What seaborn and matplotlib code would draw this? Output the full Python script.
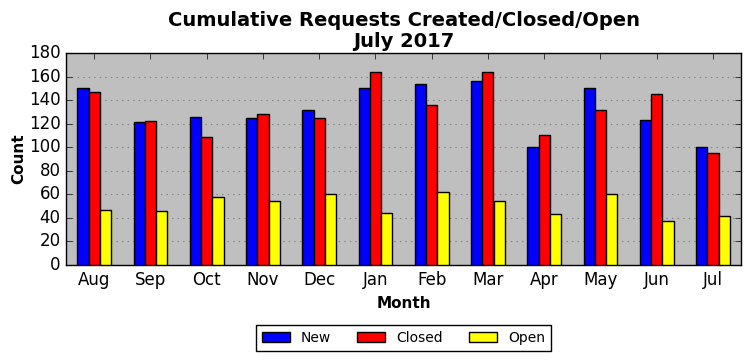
import numpy as np
import pandas as pd
import seaborn as sns
import matplotlib
matplotlib.use("Agg")
import matplotlib.pyplot as plt

months = ["Aug", "Sep", "Oct", "Nov", "Dec", "Jan", "Feb", "Mar", "Apr", "May", "Jun", "Jul"]
new = [150, 121, 126, 125, 132, 150, 154, 156, 100, 150, 123, 100]
closed = [147, 122, 109, 128, 125, 164, 136, 164, 110, 132, 145, 95]
open_ = [47, 46, 58, 54, 60, 44, 62, 54, 43, 60, 37, 42]

df = pd.DataFrame({
    "Month": months * 3,
    "Count": new + closed + open_,
    "Type": ["New"] * 12 + ["Closed"] * 12 + ["Open"] * 12,
})

plt.style.use("classic")
fig = plt.figure(figsize=(7.51, 3.61), dpi=100, facecolor="white")
ax = fig.add_axes([66 / 751, 1 - 265 / 361, 675 / 751, 212 / 361])
ax.set_facecolor("#bfbfbf")

sns.barplot(data=df, x="Month", y="Count", hue="Type", order=months,
            hue_order=["New", "Closed", "Open"],
            palette=["blue", "red", "yellow"], width=0.6,
            edgecolor="black", linewidth=1, saturation=1, ax=ax, zorder=3)

ax.set_xlim(-0.5, 11.5)
ax.set_ylim(0, 180)
ax.set_yticks(np.arange(0, 181, 20))
ax.yaxis.grid(True, linestyle=":", color="#808080", linewidth=0.8, zorder=0)
ax.xaxis.grid(False)
ax.set_axisbelow(True)
ax.tick_params(axis="both", labelsize=12, direction="in", top=True, right=True)

ax.set_xlabel("Month", fontsize=11, fontweight="bold")
ax.set_ylabel("Count", fontsize=11, fontweight="bold", labelpad=2)
ax.set_title("Cumulative Requests Created/Closed/Open\nJuly 2017",
             fontsize=14, fontweight="bold", linespacing=1.15, pad=4)

leg = ax.legend(loc="upper center", bbox_to_anchor=(0.5, -0.285), ncol=3,
                fontsize=10, fancybox=False, frameon=True, handlelength=2.0,
                columnspacing=1.9, borderaxespad=0)
leg.get_frame().set_edgecolor("black")

fig.savefig("out.png", dpi=100, facecolor="white")
